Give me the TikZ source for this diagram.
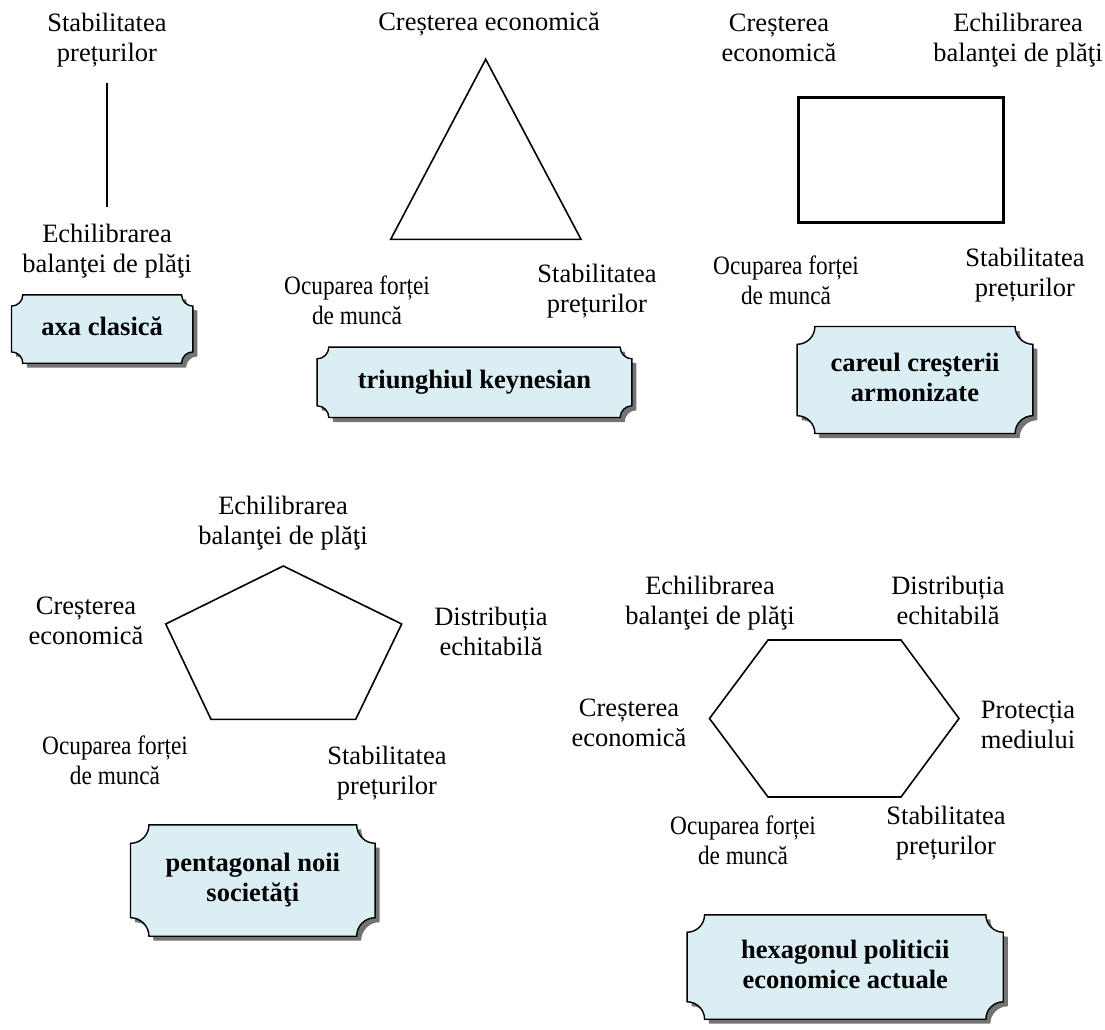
\documentclass[tikz,border=0pt]{standalone}
\usepackage{fontspec}
\setmainfont{Liberation Serif}
\definecolor{plaquefill}{HTML}{DAEEF3}
\definecolor{plaqueshadow}{HTML}{737373}
\newcommand\plq[4]{([xshift=#3+#2,yshift=#4]#1.north west) -- ([xshift=#3-#2,yshift=#4]#1.north east) arc[start angle=180,end angle=270,radius=#2] -- ([xshift=#3,yshift=#4+#2]#1.south east) arc[start angle=90,end angle=180,radius=#2] -- ([xshift=#3+#2,yshift=#4]#1.south west) arc[start angle=0,end angle=90,radius=#2] -- ([xshift=#3,yshift=#4-#2]#1.north west) arc[start angle=270,end angle=360,radius=#2] -- cycle}
\newcommand\plaque[2]{%
  \fill[plaqueshadow] \plq{#1}{#2}{4.5}{-4.5};
  \filldraw[fill=plaquefill, draw=black, line width=1.4pt] \plq{#1}{#2}{0}{0};
}
\begin{document}
\begin{tikzpicture}[x=1pt,y=1pt,
  lbl/.style={font=\fontsize{26.5}{30}\selectfont, align=center, inner sep=0pt, anchor=north},
  lblc/.style={lbl, xscale=0.88},
  plqtext/.style={font=\fontsize{26.5}{30}\selectfont\bfseries, align=center, inner sep=0pt},
  figline/.style={line width=1.6pt, line join=miter}]
\useasboundingbox (0,0) rectangle (1105,-1030);

% ---------- axa clasica ----------
\node[lbl] (a1) at (107,-10.7) {\strut Stabilitatea\\\strut prețurilor};
\node[lbl] (a2) at (107,-221) {\strut Echilibrarea\\\strut balanţei de plăţi};
\coordinate (aT) at (107,-83);
\coordinate (aB) at (107,-207);
\draw[figline] (aT) -- (aB);

% ---------- triunghiul keynesian ----------
\node[lbl] (t1) at (489,-9) {\strut Creșterea economică};
\node[lblc] (t2) at (357,-273) {\strut Ocuparea forței\\\strut de muncă};
\node[lbl] (t3) at (597,-261) {\strut Stabilitatea\\\strut prețurilor};
\coordinate (tA) at (485.7,-59.3);
\coordinate (tB) at (390.7,-239.3);
\coordinate (tC) at (581,-239.3);
\draw[figline] (tA) -- (tB) -- (tC) -- cycle;

% ---------- careul ----------
\node[lbl] (c1) at (779,-10) {\strut Creșterea\\\strut economică};
\node[lbl] (c2) at (1018,-10) {\strut Echilibrarea\\\strut balanţei de plăţi};
\node[lblc] (c3) at (786,-253) {\strut Ocuparea forței\\\strut de muncă};
\node[lbl] (c4) at (1025,-245) {\strut Stabilitatea\\\strut prețurilor};
\coordinate (cA) at (798.3,-97.7);
\coordinate (cB) at (1003.3,-222.7);
\draw[line width=2.6pt] (cA) rectangle (cB);

% ---------- pentagon ----------
\node[lbl] (p1) at (283,-493) {\strut Echilibrarea\\\strut balanţei de plăţi};
\node[lbl] (p2) at (86,-593) {\strut Creșterea\\\strut economică};
\node[lbl] (p3) at (491,-604) {\strut Distribuția\\\strut echitabilă};
\node[lblc] (p4) at (115,-733) {\strut Ocuparea forței\\\strut de muncă};
\node[lbl] (p5) at (387,-743) {\strut Stabilitatea\\\strut prețurilor};
\coordinate (pA) at (283.3,-566);
\coordinate (pB) at (401.7,-624);
\coordinate (pC) at (355.7,-719.3);
\coordinate (pD) at (211,-719.3);
\coordinate (pE) at (165.7,-624);
\draw[figline] (pA) -- (pB) -- (pC) -- (pD) -- (pE) -- cycle;

% ---------- hexagon ----------
\node[lbl] (h1) at (710,-573) {\strut Echilibrarea\\\strut balanţei de plăţi};
\node[lbl] (h2) at (948,-573) {\strut Distribuția\\\strut echitabilă};
\node[lbl] (h3) at (629,-695) {\strut Creșterea\\\strut economică};
\node[lbl] (h4) at (1028,-697) {\strut Protecția\\\strut mediului};
\node[lblc] (h5) at (743,-813) {\strut Ocuparea forței\\\strut de muncă};
\node[lbl] (h6) at (946,-803) {\strut Stabilitatea\\\strut prețurilor};
\coordinate (hA) at (768,-640);
\coordinate (hB) at (901,-640);
\coordinate (hC) at (959,-718.5);
\coordinate (hD) at (901,-797);
\coordinate (hE) at (768,-797);
\coordinate (hF) at (709.5,-718.5);
\draw[figline] (hA) -- (hB) -- (hC) -- (hD) -- (hE) -- (hF) -- cycle;

% ---------- plaques ----------
\node[plqtext, minimum width=181, minimum height=68] (b1) at (102.2,-329) {};
\plaque{b1}{11.3}
\node[plqtext] at (b1.center) {\strut axa clasică};

\node[plqtext, minimum width=314.4, minimum height=70] (b2) at (474.5,-382.3) {};
\plaque{b2}{11.7}
\node[plqtext] at (b2.center) {\strut triunghiul keynesian};

\node[plqtext, minimum width=235.4, minimum height=106.6] (b3) at (915,-380) {};
\plaque{b3}{17.8}
\node[plqtext] at (b3.center) {\strut careul creşterii\\\strut armonizate};

\node[plqtext, minimum width=244.3, minimum height=111] (b4) at (252.8,-880.5) {};
\plaque{b4}{18.5}
\node[plqtext] at (b4.center) {\strut pentagonal noii\\\strut societăţi};

\node[plqtext, minimum width=315.7, minimum height=104] (b5) at (845.2,-967) {};
\plaque{b5}{17.4}
\node[plqtext] at (b5.center) {\strut hexagonul politicii\\\strut economice actuale};
\end{tikzpicture}
\end{document}
